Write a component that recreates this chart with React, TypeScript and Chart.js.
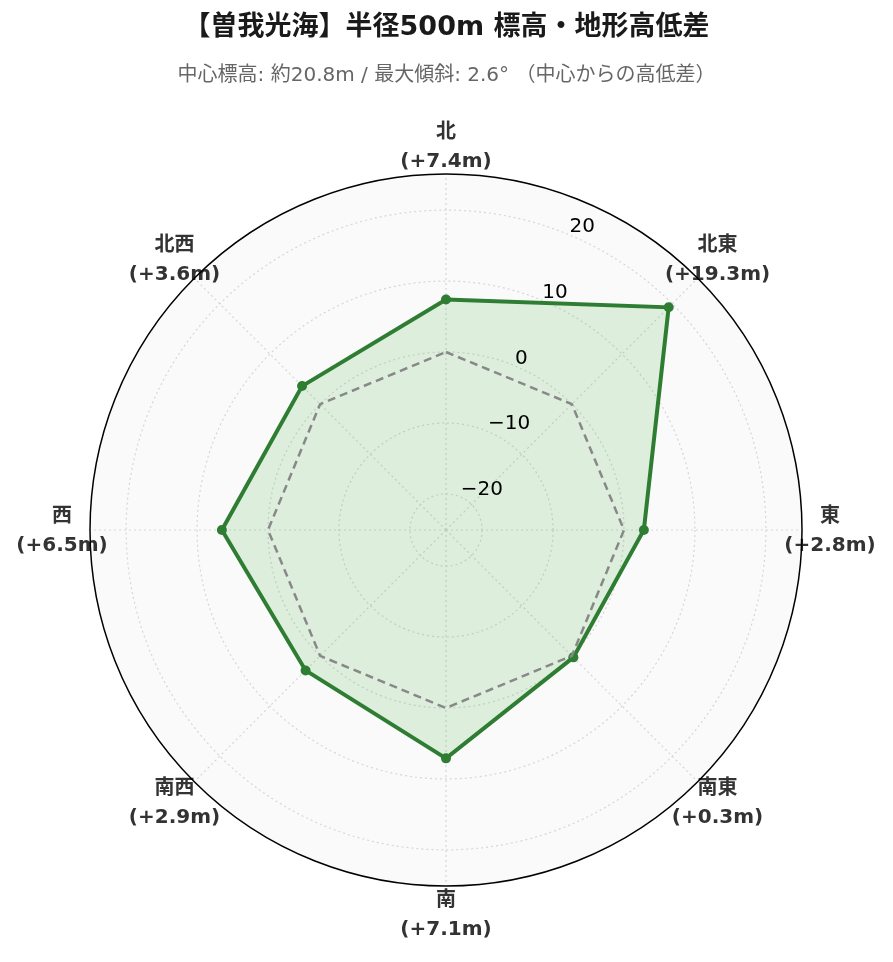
import React, { useEffect, useRef } from 'react';
import { Chart, registerables } from 'chart.js';

Chart.register(...registerables);

const titleText = '【曽我光海】半径500m 標高・地形高低差';
const subtitleText = '中心標高: 約20.8m / 最大傾斜: 2.6° （中心からの高低差）';
const directions = ['北', '北東', '東', '南東', '南', '南西', '西', '北西'];
const heightDiffs = [7.4, 19.3, 2.8, 0.3, 7.1, 2.9, 6.5, 3.6];
const referenceLevel = [0, 0, 0, 0, 0, 0, 0, 0];
const radialTicks = [-20, -10, 0, 10, 20];
const radialLimit = 25.09;

const LATIN_CJK = '"DejaVu Sans", "Noto Sans CJK JP", sans-serif';

function fmtDiff(v: number): string {
  return `(${v >= 0 ? '+' : ''}${v.toFixed(1)}m)`;
}
function fmtTick(v: number): string {
  return v < 0 ? `\u2212${Math.abs(v)}` : `${v}`;
}

const decorPlugin = {
  id: 'decor',
  beforeDraw(chart: any) {
    const s = chart.scales.r;
    const ctx = chart.ctx;
    const R = s.getDistanceFromCenterForValue(s.max);
    ctx.save();
    ctx.fillStyle = '#ffffff';
    ctx.fillRect(0, 0, chart.width, chart.height);
    ctx.beginPath();
    ctx.arc(s.xCenter, s.yCenter, R, 0, Math.PI * 2);
    ctx.fillStyle = '#fafafa';
    ctx.fill();
    ctx.restore();
  },
  afterDraw(chart: any) {
    const s = chart.scales.r;
    const ctx = chart.ctx;
    const R = s.getDistanceFromCenterForValue(s.max);
    ctx.save();
    // titles
    ctx.textAlign = 'center';
    ctx.textBaseline = 'middle';
    ctx.fillStyle = '#1a1a1a';
    ctx.font = `bold 27px ${LATIN_CJK}`;
    ctx.fillText(titleText, chart.width / 2, 28);
    ctx.fillStyle = '#666666';
    ctx.font = `20px ${LATIN_CJK}`;
    ctx.fillText(subtitleText, chart.width / 2, 76);

    // point labels
    ctx.fillStyle = '#333333';
    ctx.font = `bold 20px ${LATIN_CJK}`;
    const labelDist = R + 28;
    directions.forEach((d, i) => {
      const p = s.getPointPosition(i, labelDist);
      ctx.fillText(d, p.x, p.y - 13);
      ctx.fillText(fmtDiff(heightDiffs[i]), p.x, p.y + 16);
    });

    // outer circle
    ctx.beginPath();
    ctx.arc(s.xCenter, s.yCenter, R, 0, Math.PI * 2);
    ctx.strokeStyle = '#000000';
    ctx.lineWidth = 1.5;
    ctx.stroke();

    // radial tick labels along 22.5 deg
    const ang = (22.5 * Math.PI) / 180;
    ctx.fillStyle = '#000000';
    ctx.font = `20px ${LATIN_CJK}`;
    ctx.textAlign = 'left';
    ctx.textBaseline = 'alphabetic';
    radialTicks.forEach((v) => {
      const d = s.getDistanceFromCenterForValue(v);
      const x = s.xCenter + d * Math.sin(ang);
      const y = s.yCenter - d * Math.cos(ang);
      ctx.fillText(fmtTick(v), x + 1, y - 2);
    });
    ctx.restore();
  },
};

export default function App() {
  const ref = useRef<HTMLCanvasElement | null>(null);
  useEffect(() => {
    if (!ref.current) return;
    const chart = new Chart(ref.current, {
      type: 'radar',
      data: {
        labels: directions,
        datasets: [
          {
            label: '基準 (0m)',
            data: referenceLevel,
            borderColor: '#888888',
            borderWidth: 2.5,
            borderDash: [8, 5],
            pointRadius: 0,
            fill: false,
            order: 0,
          },
          {
            label: '高低差',
            data: heightDiffs,
            borderColor: '#2e7d32',
            borderWidth: 4,
            backgroundColor: 'rgba(76,175,80,0.17)',
            fill: 'start',
            pointRadius: 5,
            pointBackgroundColor: '#2e7d32',
            pointBorderColor: '#2e7d32',
            pointBorderWidth: 0,
            order: 1,
          },
        ],
      },
      options: {
        responsive: false,
        animation: false,
        events: [],
        layout: { padding: { left: 90, right: 91, top: 174, bottom: 76 } },
        plugins: { legend: { display: false }, tooltip: { enabled: false }, title: { display: false } },
        elements: { line: { tension: 0 } },
        scales: {
          r: {
            min: -radialLimit,
            max: radialLimit,
            beginAtZero: false,
            afterBuildTicks: (scale: any) => {
              scale.ticks = radialTicks.map((v) => ({ value: v }));
            },
            ticks: { display: false },
            pointLabels: { display: false },
            grid: { circular: true, color: '#d6d6d6', lineWidth: 1.2 },
            border: { dash: [2, 3] },
            angleLines: { display: true, color: '#d6d6d6', lineWidth: 1.2, borderDash: [2, 3] },
          } as any,
        },
      },
      plugins: [decorPlugin],
    });
    return () => chart.destroy();
  }, []);
  return (
    <div style={{ position: 'absolute', left: 0, top: 0, width: 893, height: 962 }}>
      <canvas ref={ref} width={893} height={962} style={{ display: 'block' }} />
    </div>
  );
}
